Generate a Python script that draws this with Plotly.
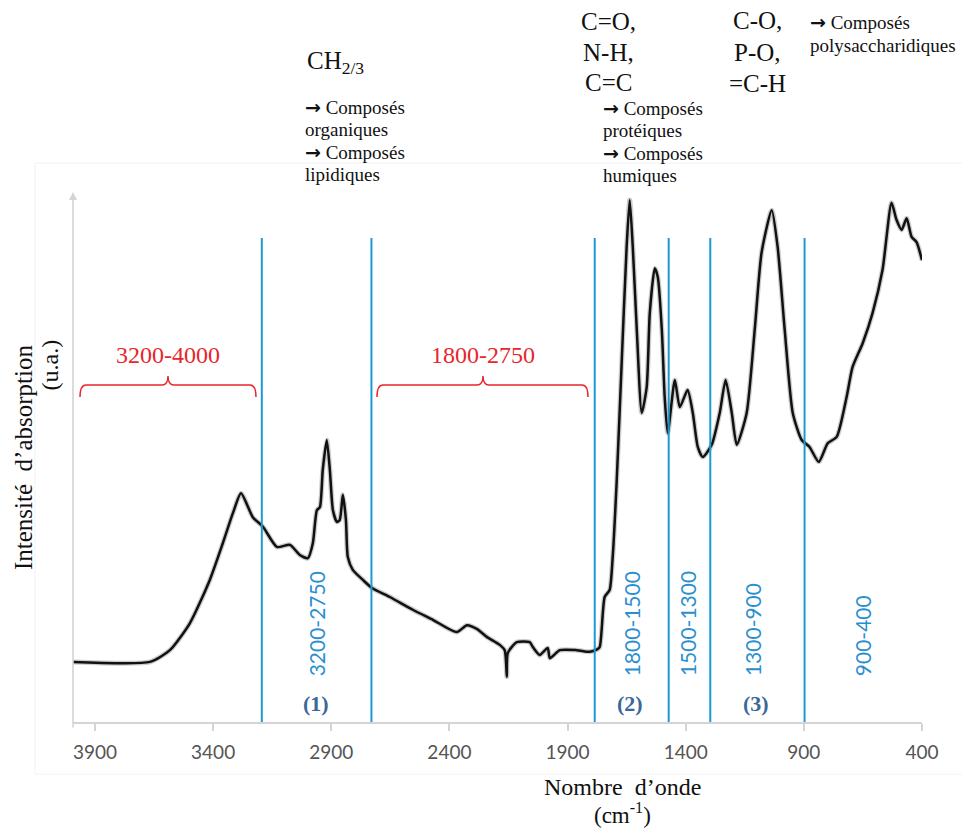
import plotly.graph_objects as go

# spectre IRTF (nombre d'onde en cm-1, intensité en u.a.)
wavenumber = [
    3993, 3667, 3583, 3498, 3414, 3359, 3316, 3282, 3232, 3189, 3130, 3075, 3033,
    2999, 2978, 2961, 2948, 2936, 2919, 2906, 2893, 2876, 2864, 2851, 2838, 2830,
    2809, 2766, 2728, 2652, 2555, 2470, 2369, 2326, 2284, 2242, 2187, 2166, 2157,
    2153, 2115, 2060, 2047, 2018, 1984, 1975, 1933, 1861, 1806, 1777, 1764, 1743,
    1722, 1709, 1692, 1671, 1650, 1637, 1624, 1607, 1586, 1565, 1552, 1531, 1518,
    1501, 1489, 1476, 1446, 1425, 1392, 1370, 1349, 1328, 1290, 1256, 1231, 1205,
    1184, 1142, 1108, 1079, 1036, 1011, 981, 947, 909, 876, 837, 799, 761, 719,
    694, 651, 609, 567, 529, 508, 486, 465, 444, 423, 400,
]
intensity = [
    11.3, 11.3, 13.5, 18.6, 26.7, 33.6, 39.3, 43.0, 38.5, 36.7, 32.9, 33.3, 31.4,
    30.8, 33.6, 39.8, 40.4, 47.4, 53.0, 47.4, 39.8, 37.6, 38.0, 42.7, 38.0, 31.0,
    28.6, 26.7, 25.2, 23.5, 21.1, 19.2, 16.9, 18.2, 17.5, 16.0, 14.5, 13.5, 8.5,
    13.0, 15.0, 15.0, 14.1, 12.6, 13.9, 12.0, 13.5, 13.5, 13.2, 13.6, 14.1, 23.5,
    24.8, 31.0, 45.3, 67.5, 89.3, 98.1, 89.3, 73.7, 58.1, 63.0, 76.9, 85.3, 83.6,
    73.7, 61.1, 54.3, 64.3, 59.2, 62.4, 58.1, 51.7, 49.8, 52.1, 58.1, 64.3, 58.1,
    52.1, 58.1, 73.7, 88.2, 96.2, 89.3, 73.7, 58.1, 53.0, 51.7, 48.9, 52.4, 53.6,
    61.1, 66.7, 71.2, 76.9, 85.0, 97.6, 94.4, 92.5, 94.7, 91.2, 90.2, 86.8,
]

x_ticks = [3900, 3400, 2900, 2400, 1900, 1400, 900, 400]

# limites des zones (telles que tracées)
zone_limits = [3194, 2730, 1785, 1472, 1296, 897]
zone_labels = ["3200-2750", "1800-1500", "1500-1300", "1300-900", "900-400"]
zone_label_pos = [2961, 1628, 1392, 1117, 651]
group_labels = ["(1)", "(2)", "(3)"]
group_pos = [2966, 1637, 1101]

SERIF = "Liberation Serif"
SANS = "Lato"
BLUE = "#1b9ad2"
BLUE_TXT = "#2b8fcf"
RED = "#e8262b"
ARROW = "<span style='font-family:DejaVu Sans'><b>→</b></span>"

# zone du graphe en pixels de la page (le body ajoute 8 px)
PL, PR, PT, PB = 73, 922, 190, 722
BODY = 8


def px(x):
    return (x - PL) / (PR - PL)


def py(y):
    return (PB - y) / (PB - PT)


fig = go.Figure()

# léger halo gris (répétitions)
fig.add_trace(go.Scatter(
    x=wavenumber, y=intensity, mode="lines",
    line=dict(color="rgba(110,110,110,0.35)", width=5, shape="spline", smoothing=0.6),
    hoverinfo="skip", showlegend=False,
))
fig.add_trace(go.Scatter(
    x=wavenumber, y=intensity, mode="lines",
    line=dict(color="#111111", width=2.5, shape="spline", smoothing=0.6),
    showlegend=False,
))

shapes = []
# cadre très léger autour du graphique
shapes.append(dict(type="rect", xref="paper", yref="paper",
                   x0=px(35), x1=px(969), y0=py(774), y1=py(163),
                   line=dict(color="#f2f2f2", width=1), layer="below"))

for wn in zone_limits:
    shapes.append(dict(type="line", xref="x", yref="paper", x0=wn, x1=wn,
                       y0=0, y1=py(238), line=dict(color=BLUE, width=2)))


def brace(x1, x2, xc, yb=397, yh=385, yt=376, r=6):
    pts = [
        f"M {px(x1)},{py(yb)}",
        f"Q {px(x1)},{py(yh)} {px(x1 + r)},{py(yh)}",
        f"L {px(xc - r)},{py(yh)}",
        f"Q {px(xc)},{py(yh)} {px(xc)},{py(yt)}",
        f"Q {px(xc)},{py(yh)} {px(xc + r)},{py(yh)}",
        f"L {px(x2 - r)},{py(yh)}",
        f"Q {px(x2)},{py(yh)} {px(x2)},{py(yb)}",
    ]
    return dict(type="path", xref="paper", yref="paper", path=" ".join(pts),
                line=dict(color=RED, width=1.5))


shapes.append(brace(80, 256, 168))
shapes.append(brace(377, 588, 483))

annotations = []

# axe y avec flèche
annotations.append(dict(xref="paper", yref="paper", x=0, y=py(192), ax=0, ay=537,
                        showarrow=True, arrowhead=2, arrowsize=1, arrowwidth=1.6,
                        arrowcolor="#d4d4d4", text=""))


def label(text, x, y, size, color="#111111", family=SERIF, xref="paper",
          xanchor="center", yanchor="middle", angle=0):
    annotations.append(dict(xref=xref, yref="paper", x=x, y=y, text=text,
                            xanchor=xanchor, yanchor=yanchor, textangle=angle,
                            showarrow=False,
                            font=dict(family=family, size=size, color=color)))


label("3200-4000", px(168), py(355), 24, RED)
label("1800-2750", px(483), py(355), 24, RED)

for lab, wn in zip(zone_labels, zone_label_pos):
    label(lab, wn, py(678), 21, BLUE_TXT, SANS, xref="x", yanchor="bottom", angle=-90)

for lab, wn in zip(group_labels, group_pos):
    label(f"<b>{lab}</b>", wn, py(703), 22, "#3a6899", xref="x")


def text_lines(lines, x, ys, size, anchor="left"):
    for t, y in zip(lines, ys):
        label(t, px(x), py(y), size, xanchor=anchor)


text_lines(["CH<sub>2/3</sub>"], 305, [62], 25)
text_lines([f"{ARROW} Composés", "organiques", f"{ARROW} Composés", "lipidiques"],
           303, [107, 129, 152, 175], 19)
text_lines(["C=O,", "N-H,", "C=C"], 608, [22, 52, 82], 25, "center")
text_lines([f"{ARROW} Composés", "protéiques", f"{ARROW} Composés", "humiques"],
           601, [108, 130, 153, 176], 19)
text_lines(["C-O,", "P-O,", "=C-H"], 757, [21, 52, 83], 25, "center")
text_lines([f"{ARROW} Composés", "polysaccharidiques"], 808, [22, 45], 19)

label("Nombre  d’onde", px(622), py(787), 24)
label("(cm<sup>-1</sup>)", px(622), py(813), 23)
label("Intensité  d’absorption", px(23), py(458), 25, angle=-90)
label("(u.a.)", px(49), py(338), 24, yanchor="top", angle=-90)

fig.update_layout(
    width=970, height=829,
    margin=dict(l=PL - BODY, r=970 - PR + BODY, t=PT - BODY, b=829 - PB + BODY),
    paper_bgcolor="white", plot_bgcolor="white",
    shapes=shapes, annotations=annotations,
    showlegend=False,
)
fig.update_xaxes(
    range=[3993, 400], tickvals=x_ticks, ticktext=[str(v) for v in x_ticks],
    showline=True, linecolor="#d4d4d4", linewidth=1.6,
    ticks="outside", ticklen=7, tickcolor="#d4d4d4", tickwidth=1.6,
    ticklabelstandoff=5,
    tickfont=dict(family=SANS, size=19, color="#555555"),
    showgrid=False, zeroline=False,
)
fig.update_yaxes(range=[0, 100], visible=False, showgrid=False, zeroline=False)

fig.write_html("out.html")
